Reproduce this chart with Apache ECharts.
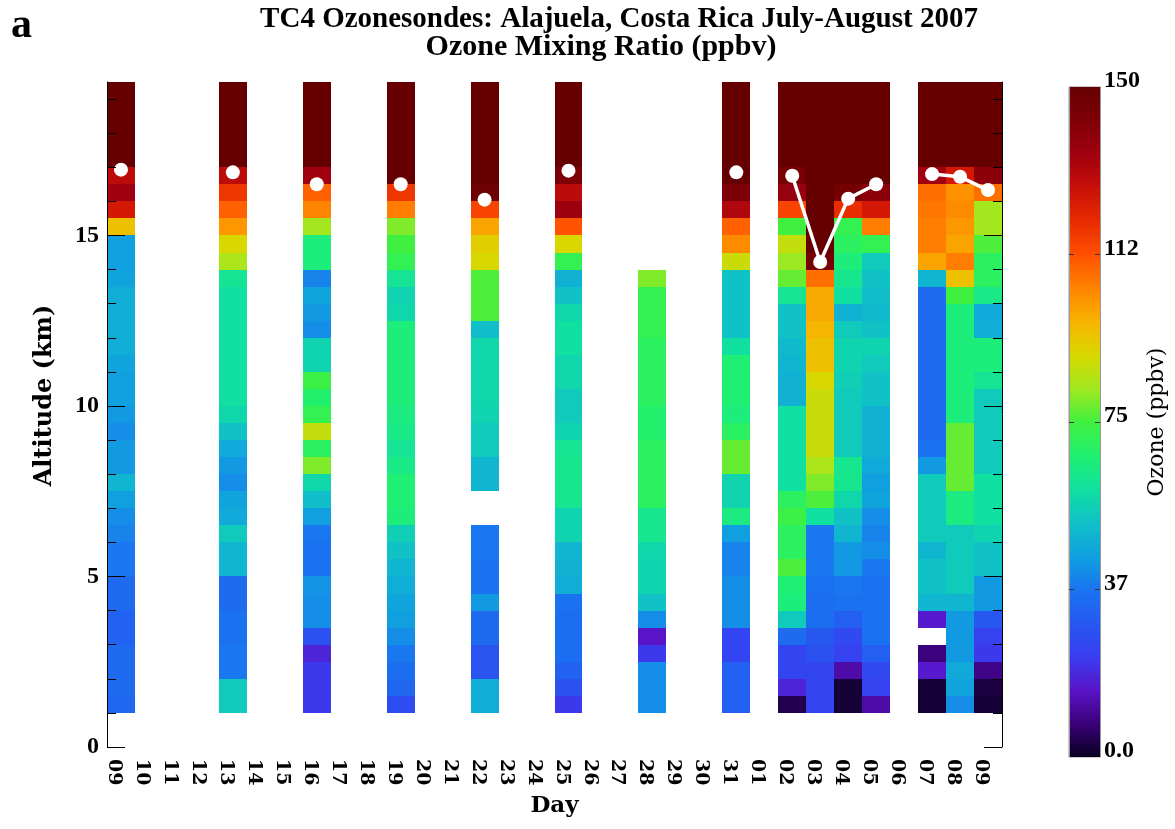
<!DOCTYPE html>
<html>
<head>
<meta charset="utf-8">
<script src="https://cdn.jsdelivr.net/npm/echarts@6/dist/echarts.min.js"></script>
<style>
html,body{margin:0;padding:0;background:#fff;}
#chart{width:1175px;height:829px;}
</style>
</head>
<body>
<div id="chart"></div>
<script>
// ---------------- DATA ----------------
// Day labels: 9 July .. 31 July, 1 Aug .. 9 Aug 2007
const dayLabels = ['09','10','11','12','13','14','15','16','17','18','19','20','21','22','23','24','25','26','27','28','29','30','31',
                   '01','02','03','04','05','06','07','08','09'];
// altitude layers (km): layer k spans altBase + k*altStep .. altBase + (k+1)*altStep
const altBase = 1.0;
const altStep = 0.5;
// ozone mixing ratio (ppbv) per layer, bottom (1.0 km) to top (19.5 km); null = no data
const o3_jul09 = [34,35,35,35,33,33,35,35,38,38, 40,42,45,50,44,44,42,44,45,45, 46,48,48,48,48,46,45,45,95,125, 135,130,150,150,150,150,150];
const o3_jul13 = [55,55,38,38,37,37,35,35,50,50, 55,47,46,42,44,47,53,58,60,60, 60,60,60,60,60,62,84,90,102,110, 118,130,150,150,150,150,150];
const o3_jul16 = [22,22,22,18,28,42,42,43,37,37, 38,45,52,58,80,70,87,72,68,74, 57,57,42,44,46,40,66,66,83,105, 110,135,150,150,150,150,150];
const o3_jul19 = [27,34,36,38,42,45,46,48,50,53, 56,66,67,67,64,62,64,65,66,66, 66,66,66,58,57,62,72,75,80,106, 118,150,150,150,150,150,150];
const o3_jul22 = [48,48,29,29,35,35,44,37,37,38, 38,null,null,50,50,55,55,57,58,58, 58,58,52,76,76,76,90,92,100,115, 148,150,150,150,150,150,150];
const o3_jul25 = [22,28,33,36,36,36,37,48,49,50, 57,57,63,63,63,62,57,55,55,58, 58,60,60,58,53,49,72,90,112,136, 130,143,150,150,150,150,150];
const o3_jul28 = [42,42,42,22,15,42,53,57,57,58, 63,63,70,70,70,70,68,68,70,70, 70,70,72,72,72,80];
const o3_jul31 = [32,32,32,25,25,42,42,42,40,40, 45,65,57,57,78,78,70,66,67,67, 67,60,53,53,53,53,88,104,110,132, 143,150,150,150,150,150,150];
const o3_aug02 = [4,18,25,25,35,55,66,67,76,70, 70,74,70,60,60,60,60,60,49,49, 50,51,53,53,62,78,82,87,75,115, 137,145,150,150,150,150,150];
const o3_aug03 = [25,25,25,28,30,36,36,37,38,38, 38,60,76,80,84,88,88,88,88,90, 95,95,97,99,99,108,145,150,150,150, 150,150,150,150,150,150,150];
const o3_aug04 = [2,2,12,24,26,32,37,38,44,44, 50,53,58,63,63,55,55,55,55,56, 57,57,55,49,60,63,66,70,72,120, 146,150,150,150,150,150,150];
const o3_aug05 = [12,24,26,32,37,37,37,37,38,42, 40,42,46,45,47,49,49,49,53,53, 55,57,53,51,52,53,55,72,106,125, 140,150,150,150,150,150,150];
const o3_aug07 = [2,2,16,8,null,16,50,53,53,50, 55,55,55,55,44,37,35,35,35,35, 35,35,35,35,35,50,100,106,106,107, 108,135,150,150,150,150,150];
const o3_aug08 = [42,46,47,44,44,44,50,55,55,55, 55,65,65,78,78,78,78,66,66,66, 66,66,66,66,75,95,106,100,102,104, 103,125,150,150,150,150,150];
const o3_aug09 = [2,3,9,22,24,30,44,44,53,53, 57,60,60,60,55,55,55,55,55,62, 66,66,48,47,64,70,70,76,83,83, 108,140,150,150,150,150,150];
// index into dayLabels for each sounding
const soundingDays = [0, 4, 7, 10, 13, 16, 19, 22, 24, 25, 26, 27, 29, 30, 31];
const soundingO3 = [o3_jul09, o3_jul13, o3_jul16, o3_jul19, o3_jul22, o3_jul25, o3_jul28, o3_jul31,
                    o3_aug02, o3_aug03, o3_aug04, o3_aug05, o3_aug07, o3_aug08, o3_aug09];
// tropopause altitude (km), one per day label; null = none
const tropopause = [16.93,null,null,null,16.85,null,null,16.5,null,null,16.5,null,null,16.05,null,null,16.9,null,null,null,null,null,16.85,
                    null,16.75,14.22,16.08,16.5,null,16.8,16.72,16.33];
// axis ticks
const altMajorTicks = [0,5,10,15];
const altMinorTicks = [1,2,3,4,6,7,8,9,11,12,13,14,16,17,18,19];
const cbarTickValues = [0,37.5,75,112.5,150];
const cbarTickLabels = ['0.0','37','75','112','150'];
// colour scale (ppbv 0..150, evenly spaced)
const o3Colors = ['#06001e','#3a0078','#5a14c8','#3a3cf0','#2658f0','#1a74f0','#10a0e0','#10c0c8','#10e0a0','#20f070',
                  '#40f040','#a0e820','#d8d800','#f8b400','#ff8400','#ff5000','#e82c00','#c81008','#a00010','#800008','#660000'];
const o3Min = 0, o3Max = 150;

// ---------------- BUILD ----------------
const heatData = [];
soundingO3.forEach((vals, i) => {
  vals.forEach((v, k) => {
    if (v !== null && v !== undefined) {
      heatData.push([soundingDays[i], altBase + k * altStep, altBase + (k + 1) * altStep, v]);
    }
  });
});
const cbarData = [];
for (let v = o3Min; v < o3Max; v += 0.5) cbarData.push([0, v, v + 0.5, v + 0.25]);

function cellRender(params, api) {
  const xi = api.value(0);
  const p0 = api.coord([xi, api.value(1)]);
  const p1 = api.coord([xi, api.value(2)]);
  const w = api.size([1, 0])[0];
  const x0 = Math.round(p0[0] - w / 2), x1 = Math.round(p0[0] + w / 2);
  const yb = Math.round(p0[1]), yt = Math.round(p1[1]);
  return { type: 'rect', shape: { x: x0, y: yt, width: x1 - x0, height: yb - yt },
           style: { fill: api.visual('color') } };
}
function cbarRender(params, api) {
  const p0 = api.coord([0, api.value(1)]);
  const p1 = api.coord([1, api.value(2)]);
  const yb = Math.ceil(p0[1]), yt = Math.floor(p1[1]);
  return { type: 'rect', shape: { x: p0[0], y: yt, width: p1[0] - p0[0], height: yb - yt },
           style: { fill: api.visual('color') } };
}

const serif = 'Liberation Serif';
const wide = 'DejaVu Serif';
const chart = echarts.init(document.getElementById('chart'), null, { renderer: 'canvas' });

function altAxis(pos, major) {
  return {
    gridIndex: 0, type: 'value', min: 0, max: 19.5, interval: major ? 5 : 1, position: pos, z: 10,
    axisLine: { show: major, lineStyle: { color: '#000', width: 1 } },
    axisTick: { show: true, inside: true, length: major ? 18 : 9, lineStyle: { color: '#000', width: 1 },
                customValues: major ? altMajorTicks : altMinorTicks },
    axisLabel: { show: major && pos === 'left', customValues: altMajorTicks,
                 fontFamily: serif, fontWeight: 'bold', fontSize: 24, color: '#000', margin: 8 },
    splitLine: { show: false }
  };
}
const yLeft = altAxis('left', true);
yLeft.name = 'Altitude (km)';
yLeft.nameLocation = 'middle';
yLeft.nameRotate = 90;
yLeft.nameGap = 50;
yLeft.nameTextStyle = { fontFamily: wide, fontWeight: 'bold', fontSize: 24, color: '#000', padding: [0, 0, 0, 38] };

const option = {
  backgroundColor: '#fff',
  animation: false,
  title: [
    { text: 'a', left: 6, top: 0, textStyle: { fontFamily: serif, fontWeight: 'bold', fontSize: 42, color: '#000' } },
    { text: 'TC4 Ozonesondes: Alajuela, Costa Rica July-August 2007', left: 614, top: 0, textAlign: 'center',
      textStyle: { fontFamily: serif, fontWeight: 'bold', fontSize: 29, lineHeight: 29, color: '#000' } },
    { text: 'Ozone Mixing Ratio (ppbv)', left: 596, top: 27, textAlign: 'center',
      textStyle: { fontFamily: serif, fontWeight: 'bold', fontSize: 30, lineHeight: 30, color: '#000' } }
  ],
  grid: [
    { left: 107, right: 173, top: 82, bottom: 82, containLabel: false },
    { left: 1069, top: 87, width: 31, height: 670, show: true, borderColor: '#999', borderWidth: 1 }
  ],
  xAxis: [
    { gridIndex: 0, type: 'category', data: dayLabels, boundaryGap: true,
      axisLine: { show: false }, axisTick: { show: false }, splitLine: { show: false },
      axisLabel: { interval: 0, rotate: -90, margin: 12, fontFamily: wide, fontWeight: 'bold', fontSize: 19, color: '#000',
                   verticalAlign: 'top', lineHeight: 14 },
      name: 'Day', nameLocation: 'middle', nameGap: 48,
      nameTextStyle: { fontFamily: wide, fontWeight: 'bold', fontSize: 23, color: '#000' } },
    { gridIndex: 1, type: 'value', min: 0, max: 1, show: false }
  ],
  yAxis: [
    yLeft,
    altAxis('left', false),
    altAxis('right', true),
    altAxis('right', false),
    { gridIndex: 1, type: 'value', min: o3Min, max: o3Max, interval: 37.5, position: 'left', z: 10,
      axisLine: { show: true, lineStyle: { color: '#999' } },
      axisTick: { show: true, inside: true, length: 5, customValues: [37.5, 75, 112.5], lineStyle: { color: '#333' } },
      axisLabel: { show: false }, splitLine: { show: false } },
    { gridIndex: 1, type: 'value', min: o3Min, max: o3Max, interval: 37.5, position: 'right', z: 10,
      axisLine: { show: true, lineStyle: { color: '#999' } },
      axisTick: { show: true, inside: true, length: 5, customValues: [37.5, 75, 112.5], lineStyle: { color: '#333' } },
      axisLabel: { customValues: cbarTickValues, margin: 4, fontFamily: serif, fontWeight: 'bold', fontSize: 24, color: '#000',
                   verticalAlign: 'bottom', lineHeight: 12,
                   formatter: v => cbarTickLabels[cbarTickValues.indexOf(v)] },
      splitLine: { show: false },
      name: 'Ozone (ppbv)', nameLocation: 'middle', nameRotate: 90, nameGap: 46,
      nameTextStyle: { fontFamily: wide, fontWeight: 'normal', fontSize: 22, color: '#000' } }
  ],
  visualMap: {
    type: 'continuous', show: false, min: o3Min, max: o3Max, dimension: 3, seriesIndex: [0, 2],
    inRange: { color: o3Colors }
  },
  series: [
    { type: 'custom', name: 'Ozone', xAxisIndex: 0, yAxisIndex: 0, renderItem: cellRender,
      encode: { x: 0, y: [1, 2] }, data: heatData, z: 2 },
    { type: 'line', name: 'Tropopause', xAxisIndex: 0, yAxisIndex: 0, data: tropopause,
      connectNulls: false, symbol: 'circle', symbolSize: 14, showSymbol: true, showAllSymbol: true,
      lineStyle: { color: '#fff', width: 3.5 }, itemStyle: { color: '#fff' }, z: 5 },
    { type: 'custom', name: 'Colorbar', xAxisIndex: 1, yAxisIndex: 4, renderItem: cbarRender,
      encode: { x: 0, y: [1, 2] }, data: cbarData, z: 2 }
  ]
};
chart.setOption(option);
</script>
</body>
</html>
